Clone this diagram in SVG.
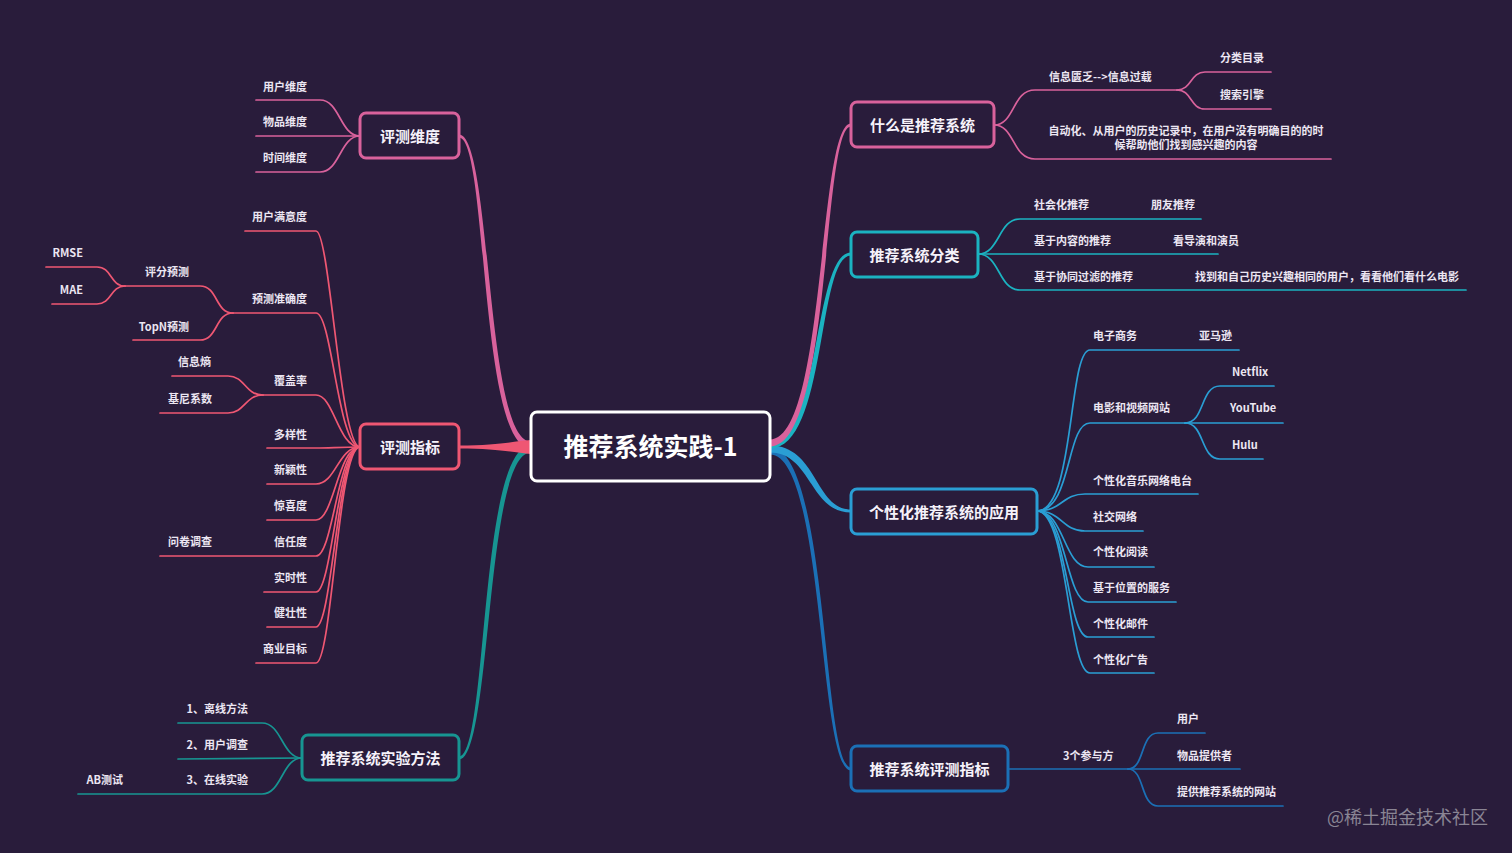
<svg xmlns="http://www.w3.org/2000/svg" width="1512" height="853" viewBox="0 0 1512 853">
<style>
text{font-family:"Noto Sans CJK SC","Noto Sans",sans-serif;font-weight:700}
.leaf{font-size:11px;fill:#ece6f2}
.r{text-anchor:end}
.m{text-anchor:middle}
.box{fill:#291c3b;stroke-width:3}
.nt{font-size:15px;fill:#f6f2fa;text-anchor:middle}
.ln{fill:none;stroke-width:1.7;stroke-linecap:round}
.k1{stroke:#d9629c}.f1{fill:#d9629c}
.k2{stroke:#ef5773}.f2{fill:#ef5773}
.k3{stroke:#179592}.f3{fill:#179592}
.k5{stroke:#1bb3c1}.f5{fill:#1bb3c1}
.k6{stroke:#2a9ed4}.f6{fill:#2a9ed4}
.k7{stroke:#1b70b6}.f7{fill:#1b70b6}
</style>
<rect x="0" y="0" width="1512" height="853" fill="#291c3b"/>
<g id="connectors">
  <path class="f1" d="M459,134.5 C492,134.5 485,441.5 531,441.5 L531,448.5 C479,448.5 488,137.5 459,137.5 Z"/>
  <path class="f3" d="M459,759.5 C492,759.5 485,452.5 531,452.5 L531,445.5 C479,445.5 488,756.5 459,756.5 Z"/>
  <path class="f2" d="M459,445.5 C500,445.5 515,441 531,440 L531,454 C515,453 500,448.5 459,448.5 Z"/>
  <path class="f7" d="M770,447.5 C829,447.5 822,767.5 851,767.5 L851,770.5 C818,770.5 825,454.5 770,454.5 Z"/>
  <path class="f6" d="M770,445.5 C817,445.5 815,509.5 851,509.5 L851,512.5 C810,512.5 811,452.5 770,452.5 Z"/>
  <path class="f5" d="M770,441.5 C821,441.5 813,252.5 851,252.5 L851,255.5 C817,255.5 827,448.5 770,448.5 Z"/>
  <path class="f1" d="M770,439.5 C826,439.5 818,123.5 851,123.5 L851,126.5 C822,126.5 832,446.5 770,446.5 Z"/>

  <path class="ln k1" d="M360,136 C340,136 340,100 320,100 L256,100"/>
  <path class="ln k1" d="M360,136 L256,136"/>
  <path class="ln k1" d="M360,136 C340,136 340,172 320,172 L256,172"/>

  <path class="ln k2" d="M360,447 C340,447 330,231 316,231 L245,231"/>
  <path class="ln k2" d="M360,447 C338,447 332,313 316,313 L233,313"/>
  <path class="ln k2" d="M233,313 C215,313 218,286 200,286 L125,286"/>
  <path class="ln k2" d="M125,286 C110,286 112,267 97,267 L46,267"/>
  <path class="ln k2" d="M125,286 C110,286 112,304 97,304 L52,304"/>
  <path class="ln k2" d="M233,313 C215,313 218,340 200,340 L133,340"/>
  <path class="ln k2" d="M360,447 C338,447 334,395 316,395 L263,395"/>
  <path class="ln k2" d="M263,395 C245,395 245,376 228,376 L172,376"/>
  <path class="ln k2" d="M263,395 C245,395 245,413 228,413 L160,413"/>
  <path class="ln k2" d="M360,447 C340,447 330,448 316,448 L267,448"/>
  <path class="ln k2" d="M360,447 C338,447 336,484 316,484 L267,484"/>
  <path class="ln k2" d="M360,447 C338,447 334,520 316,520 L267,520"/>
  <path class="ln k2" d="M360,447 C338,447 333,556 316,556 L160,556"/>
  <path class="ln k2" d="M360,447 C338,447 332,592 316,592 L264,592"/>
  <path class="ln k2" d="M360,447 C338,447 332,627 316,627 L267,627"/>
  <path class="ln k2" d="M360,447 C338,447 332,663 316,663 L256,663"/>

  <path class="ln k3" d="M302,758 C282,758 282,723 262,723 L178,723"/>
  <path class="ln k3" d="M302,758 L178,759"/>
  <path class="ln k3" d="M302,758 C282,758 282,794 262,794 L78,794"/>

  <path class="ln k1" d="M994,125 C1015,125 1012,90 1035,90 L1177,90"/>
  <path class="ln k1" d="M1177,90 C1192,90 1190,72 1205,72 L1271,72"/>
  <path class="ln k1" d="M1177,90 C1192,90 1190,109 1205,109 L1271,109"/>
  <path class="ln k1" d="M994,125 C1015,125 1012,159 1035,159 L1331,159"/>

  <path class="ln k5" d="M978,254 C1000,254 998,219 1020,219 L1201,219"/>
  <path class="ln k5" d="M978,254 L1218,254"/>
  <path class="ln k5" d="M978,254 C1000,254 998,290 1020,290 L1466,290"/>

  <path class="ln k6" d="M1037,511 C1075,511 1068,350 1090,350 L1239,350"/>
  <path class="ln k6" d="M1037,511 C1072,511 1066,423 1090,423 L1185,423"/>
  <path class="ln k6" d="M1185,423 C1205,423 1200,386 1220,386 L1274,386"/>
  <path class="ln k6" d="M1185,423 L1283,423"/>
  <path class="ln k6" d="M1185,423 C1205,423 1200,459 1220,459 L1263,459"/>
  <path class="ln k6" d="M1037,511 C1062,511 1062,494 1085,494 L1198,494"/>
  <path class="ln k6" d="M1037,511 C1062,511 1062,531 1085,531 L1143,531"/>
  <path class="ln k6" d="M1037,511 C1064,511 1064,567 1088,567 L1154,567"/>
  <path class="ln k6" d="M1037,511 C1066,511 1066,602 1088,602 L1176,602"/>
  <path class="ln k6" d="M1037,511 C1067,511 1067,637 1088,637 L1154,637"/>
  <path class="ln k6" d="M1037,511 C1068,511 1068,673 1090,673 L1154,673"/>

  <path class="ln k7" d="M1008,769 L1128,769"/>
  <path class="ln k7" d="M1128,769 C1145,769 1140,733 1158,733 L1205,733"/>
  <path class="ln k7" d="M1128,769 L1240,769"/>
  <path class="ln k7" d="M1128,769 C1145,769 1140,806 1158,806 L1283,806"/>
</g>

<g id="center">
  <rect x="531" y="412" width="239" height="69" rx="6" fill="#291c3b" stroke="#ffffff" stroke-width="3"/>
  <text x="650.5" y="456" font-size="25" fill="#ffffff" text-anchor="middle">推荐系统实践-1</text>
</g>
<g id="n-pcwd"><rect class="box k1" x="360" y="113" width="99" height="45" rx="6"/><text class="nt" x="410" y="141.5">评测维度</text></g>
<g id="n-pczb"><rect class="box k2" x="360" y="424" width="99" height="45" rx="6"/><text class="nt" x="410" y="452.5">评测指标</text></g>
<g id="n-syff"><rect class="box k3" x="302" y="735" width="157" height="45" rx="6"/><text class="nt" x="380.5" y="763.5">推荐系统实验方法</text></g>
<g id="n-what"><rect class="box k1" x="851" y="102" width="143" height="45" rx="6"/><text class="nt" x="922.5" y="130.5">什么是推荐系统</text></g>
<g id="n-fl"><rect class="box k5" x="851" y="232" width="127" height="45" rx="6"/><text class="nt" x="914.5" y="260.5">推荐系统分类</text></g>
<g id="n-app"><rect class="box k6" x="851" y="489" width="186" height="45" rx="6"/><text class="nt" x="944" y="517.5">个性化推荐系统的应用</text></g>
<g id="n-eval"><rect class="box k7" x="851" y="746" width="157" height="45" rx="6"/><text class="nt" x="929.5" y="774.5">推荐系统评测指标</text></g>

<g id="leaves-left">
  <g id="l-yhwd"><text class="leaf r" x="307" y="91">用户维度</text></g>
  <g id="l-wpwd"><text class="leaf r" x="307" y="126">物品维度</text></g>
  <g id="l-sjwd"><text class="leaf r" x="307" y="162">时间维度</text></g>
  <g id="l-myd"><text class="leaf r" x="307" y="221">用户满意度</text></g>
  <g id="l-zqd"><text class="leaf r" x="307" y="303">预测准确度</text></g>
  <g id="l-pfyc"><text class="leaf r" x="189" y="276">评分预测</text></g>
  <g id="l-rmse"><text class="leaf r" x="83" y="257">RMSE</text></g>
  <g id="l-mae"><text class="leaf r" x="83" y="294">MAE</text></g>
  <g id="l-topn"><text class="leaf r" x="189" y="331">TopN预测</text></g>
  <g id="l-fgl"><text class="leaf r" x="307" y="385">覆盖率</text></g>
  <g id="l-xxs"><text class="leaf r" x="211" y="366">信息熵</text></g>
  <g id="l-jnxs"><text class="leaf r" x="212" y="403">基尼系数</text></g>
  <g id="l-dyx"><text class="leaf r" x="307" y="439">多样性</text></g>
  <g id="l-xyx"><text class="leaf r" x="307" y="474">新颖性</text></g>
  <g id="l-jxd"><text class="leaf r" x="307" y="510">惊喜度</text></g>
  <g id="l-xrd"><text class="leaf r" x="307" y="546">信任度</text></g>
  <g id="l-wjdc"><text class="leaf r" x="212" y="546">问卷调查</text></g>
  <g id="l-ssx"><text class="leaf r" x="307" y="582">实时性</text></g>
  <g id="l-jzx"><text class="leaf r" x="307" y="617">健壮性</text></g>
  <g id="l-symb"><text class="leaf r" x="307" y="653">商业目标</text></g>
  <g id="l-lx"><text class="leaf r" x="248" y="713">1、离线方法</text></g>
  <g id="l-dc"><text class="leaf r" x="248" y="749">2、用户调查</text></g>
  <g id="l-zx"><text class="leaf r" x="248" y="784">3、在线实验</text></g>
  <g id="l-ab"><text class="leaf r" x="123" y="784">AB测试</text></g>
</g>

<g id="leaves-right">
  <g id="r-xxgl"><text class="leaf" x="1049" y="81">信息匮乏--&gt;信息过载</text></g>
  <g id="r-flml"><text class="leaf" x="1220" y="62">分类目录</text></g>
  <g id="r-ssyq"><text class="leaf" x="1220" y="99">搜索引擎</text></g>
  <g id="r-zdh"><text class="leaf m" x="1186" y="135">自动化、从用户的历史记录中，在用户没有明确目的的时</text><text class="leaf m" x="1186" y="149">候帮助他们找到感兴趣的内容</text></g>
  <g id="r-shh"><text class="leaf" x="1034" y="209">社会化推荐</text><text class="leaf" x="1151" y="209">朋友推荐</text></g>
  <g id="r-nr"><text class="leaf" x="1034" y="245">基于内容的推荐</text><text class="leaf" x="1173" y="245">看导演和演员</text></g>
  <g id="r-xt"><text class="leaf" x="1034" y="281">基于协同过滤的推荐</text><text class="leaf" x="1195" y="281">找到和自己历史兴趣相同的用户，看看他们看什么电影</text></g>
  <g id="r-dzsw"><text class="leaf" x="1093" y="340">电子商务</text><text class="leaf" x="1199" y="340">亚马逊</text></g>
  <g id="r-sp"><text class="leaf" x="1093" y="412">电影和视频网站</text></g>
  <g id="r-netflix"><text class="leaf" x="1232" y="376">Netflix</text></g>
  <g id="r-youtube"><text class="leaf" x="1230" y="412">YouTube</text></g>
  <g id="r-hulu"><text class="leaf" x="1232" y="449">Hulu</text></g>
  <g id="r-yy"><text class="leaf" x="1093" y="485">个性化音乐网络电台</text></g>
  <g id="r-sj"><text class="leaf" x="1093" y="521">社交网络</text></g>
  <g id="r-yd"><text class="leaf" x="1093" y="556">个性化阅读</text></g>
  <g id="r-wz"><text class="leaf" x="1093" y="592">基于位置的服务</text></g>
  <g id="r-yj"><text class="leaf" x="1093" y="628">个性化邮件</text></g>
  <g id="r-gg"><text class="leaf" x="1093" y="664">个性化广告</text></g>
  <g id="r-cyf"><text class="leaf" x="1063" y="760">3个参与方</text></g>
  <g id="r-yh"><text class="leaf" x="1177" y="723">用户</text></g>
  <g id="r-wp"><text class="leaf" x="1177" y="760">物品提供者</text></g>
  <g id="r-wzt"><text class="leaf" x="1177" y="796">提供推荐系统的网站</text></g>
</g>

<text x="1327" y="824" font-size="18" fill="#8a8594" style="font-weight:400">@稀土掘金技术社区</text>
</svg>
